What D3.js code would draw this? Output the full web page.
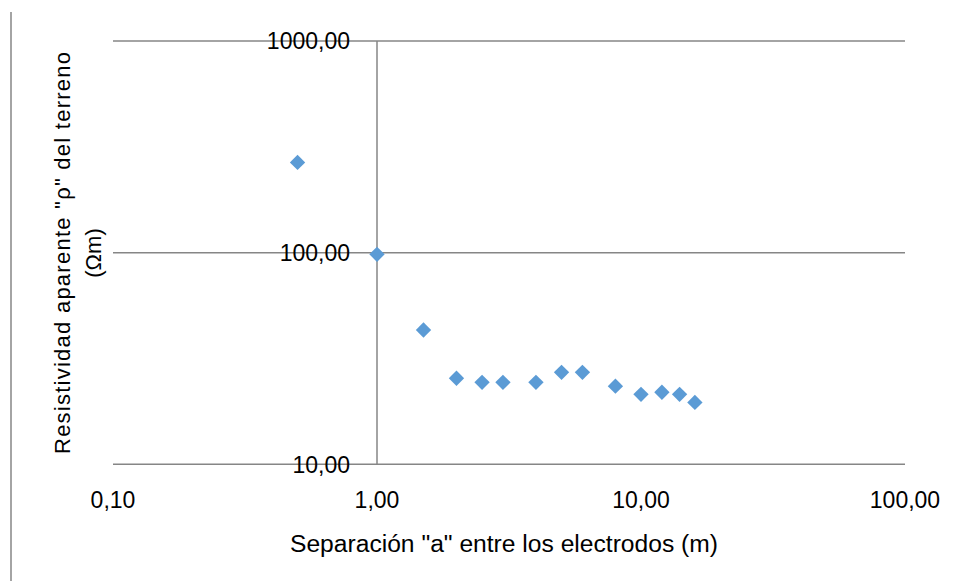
<!DOCTYPE html>
<html>
<head>
<meta charset="utf-8">
<script src="https://cdn.jsdelivr.net/npm/d3@7"></script>
<style>
  html, body { margin: 0; padding: 0; background: #fff; }
  svg { display: block; }
  .tick-lbl { font-family: "Liberation Sans", Arial, sans-serif; font-size: 23px; fill: #000; }
  .title-x { font-family: "Liberation Sans", Arial, sans-serif; font-size: 23px; fill: #000; }
  .title-y { font-family: "Liberation Sans", Arial, sans-serif; font-size: 22px; fill: #000; }
</style>
</head>
<body>
<svg id="chart" width="956" height="581"></svg>
<script>
// Electrode separation "a" (m) and apparent resistivity (Ωm)
const separation = [0.5, 1, 1.5, 2, 2.5, 3, 4, 5, 6, 8, 10, 12, 14, 16];
const resistivity = [267, 98.2, 43.1, 25.5, 24.4, 24.4, 24.4, 27.2, 27.2, 23.4, 21.4, 21.9, 21.4, 19.6];

const xTicks = [0.1, 1, 10, 100];
const yTicks = [10, 100, 1000];
const xTickLabels = ["0,10", "1,00", "10,00", "100,00"];
const yTickLabels = ["10,00", "100,00", "1000,00"];

const xTitle = 'Separación "a" entre los electrodos (m)';
const yTitleLines = ['Resistividad aparente "ρ" del terreno', '(Ωm)'];

const svg = d3.select("#chart");
const gridColor = "#868686";

const x = d3.scaleLog().domain([0.1, 100]).range([113, 905]);
const y = d3.scaleLog().domain([10, 1000]).range([464.3, 41]);

// outer frame edge on the left
svg.append("line")
  .attr("x1", 11).attr("x2", 11).attr("y1", 12).attr("y2", 581)
  .attr("stroke", gridColor).attr("stroke-width", 1.5);

// horizontal major gridlines
svg.append("g").selectAll("line").data(yTicks).join("line")
  .attr("x1", x(0.1)).attr("x2", x(100))
  .attr("y1", d => y(d)).attr("y2", d => y(d))
  .attr("stroke", gridColor).attr("stroke-width", 1.5);

// vertical value axis crossing at x = 1
svg.append("line")
  .attr("x1", x(1)).attr("x2", x(1))
  .attr("y1", y(1000)).attr("y2", y(10))
  .attr("stroke", gridColor).attr("stroke-width", 1.5);

// y tick labels, placed beside the axis at x = 1
svg.append("g").selectAll("text").data(yTicks).join("text")
  .attr("class", "tick-lbl")
  .attr("x", x(1) - 27)
  .attr("y", d => y(d))
  .attr("dy", "0.36em")
  .attr("text-anchor", "end")
  .text((d, i) => yTickLabels[i]);

// x tick labels
svg.append("g").selectAll("text").data(xTicks).join("text")
  .attr("class", "tick-lbl")
  .attr("x", d => x(d))
  .attr("y", 508)
  .attr("text-anchor", "middle")
  .text((d, i) => xTickLabels[i]);

// axis titles
svg.append("text")
  .attr("class", "title-x")
  .attr("x", 504).attr("y", 552)
  .attr("text-anchor", "middle")
  .attr("textLength", 428)
  .attr("lengthAdjust", "spacingAndGlyphs")
  .text(xTitle);

const yt = svg.append("text")
  .attr("class", "title-y")
  .attr("transform", "translate(70,253) rotate(-90)")
  .attr("text-anchor", "middle");
yt.selectAll("tspan").data(yTitleLines).join("tspan")
  .attr("x", 0)
  .attr("y", (d, i) => i * 31)
  .attr("textLength", (d, i) => i === 0 ? 402 : null)
  .attr("lengthAdjust", "spacing")
  .text(d => d);

// data points as diamonds
const diamond = d3.symbol().type(d3.symbolDiamond2).size(150);
svg.append("g").selectAll("path").data(separation).join("path")
  .attr("d", diamond)
  .attr("transform", (d, i) => `translate(${x(d)},${y(resistivity[i])})`)
  .attr("fill", "#5b9bd5");
</script>
</body>
</html>
